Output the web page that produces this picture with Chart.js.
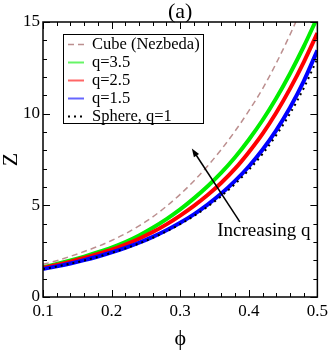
<!DOCTYPE html>
<html>
<head>
<meta charset="utf-8">
<script src="https://cdn.jsdelivr.net/npm/chart.js@4.4.0/dist/chart.umd.min.js"></script>
<style>
  html, body { margin: 0; padding: 0; background: #fff; }
</style>
</head>
<body>
<canvas id="chart" width="332" height="350"></canvas>
<script>
// packing fraction
const phi = [0.10, 0.12, 0.14, 0.16, 0.18, 0.20, 0.22, 0.24, 0.26, 0.28, 0.30,
             0.32, 0.34, 0.36, 0.38, 0.40, 0.42, 0.44, 0.46, 0.48, 0.50];
// compressibility Z
const cube   = [1.78, 1.98, 2.22, 2.48, 2.76, 3.08, 3.45, 3.88, 4.37, 4.95, 5.60,
                6.33, 7.15, 8.05, 9.05, 10.15, 11.35, 12.75, 14.30, 16.00, 17.90];
const q35    = [1.63, 1.80, 1.99, 2.20, 2.44, 2.70, 3.00, 3.36, 3.78, 4.25, 4.78,
                5.38, 6.04, 6.78, 7.62, 8.58, 9.64, 10.84, 12.18, 13.65, 15.25];
const q25    = [1.59, 1.75, 1.93, 2.13, 2.35, 2.58, 2.86, 3.18, 3.54, 3.96, 4.44,
                4.97, 5.56, 6.23, 7.00, 7.90, 8.90, 10.05, 11.35, 12.80, 14.40];
const q15    = [1.53, 1.67, 1.83, 2.01, 2.21, 2.43, 2.68, 2.96, 3.28, 3.64, 4.05,
                4.51, 5.04, 5.64, 6.33, 7.12, 8.03, 9.09, 10.32, 11.76, 13.45];
const sphere = [1.52, 1.66, 1.82, 1.99, 2.19, 2.41, 2.65, 2.92, 3.23, 3.58, 3.97,
                4.42, 4.93, 5.51, 6.17, 6.93, 7.80, 8.82, 10.00, 11.38, 13.00];

const seriesLabels = ['Cube (Nezbeda)', 'q=3.5', 'q=2.5', 'q=1.5', 'Sphere, q=1'];
const xTicks = [0.1, 0.2, 0.3, 0.4, 0.5];
const yTicks = [0, 5, 10, 15];
const panelTitle = '(a)';
const noteText = 'Increasing q';
const noteAt = [0.354, 3.6];
const arrowFrom = [0.387, 4.1];
const arrowTo = [0.317, 8.1];

const SERIF = "'Liberation Serif', 'DejaVu Serif', serif";

function pts(ys) {
  return phi.map((p, i) => ({ x: p, y: ys[i] }));
}

const styles = {
  'Cube (Nezbeda)': { color: '#bc8f8f', width: 1.5, dash: [6, 4] },
  'q=3.5': { color: '#00ee00', width: 4, dash: [] },
  'q=2.5': { color: '#ff0000', width: 4, dash: [] },
  'q=1.5': { color: '#0000ff', width: 4, dash: [] },
  'Sphere, q=1': { color: '#000000', width: 2, dash: [2, 4] },
};

function makeSet(label, ys) {
  const s = styles[label];
  return {
    label: label,
    data: pts(ys),
    borderColor: s.color,
    borderWidth: s.width,
    borderDash: s.dash,
    pointRadius: 0,
    fill: false,
    cubicInterpolationMode: 'monotone',
  };
}

// frame with inward ticks on all four sides
const framePlugin = {
  id: 'frame',
  afterDatasetsDraw(chart) {
    const { ctx, chartArea: a, scales: { x, y } } = chart;
    ctx.save();
    ctx.strokeStyle = '#000';
    ctx.lineWidth = 1;
    ctx.beginPath();
    for (let i = 0; i <= 20; i++) {
      const px = Math.round(x.getPixelForValue(0.1 + i * 0.02)) + 0.5;
      const len = i % 5 === 0 ? 7 : 4;
      ctx.moveTo(px, a.bottom); ctx.lineTo(px, a.bottom - len);
      ctx.moveTo(px, a.top); ctx.lineTo(px, a.top + len);
    }
    for (let i = 0; i <= 15; i++) {
      const py = Math.round(y.getPixelForValue(i)) + 0.5;
      const len = i % 5 === 0 ? 7 : 4;
      ctx.moveTo(a.left, py); ctx.lineTo(a.left + len, py);
      ctx.moveTo(a.right, py); ctx.lineTo(a.right - len, py);
    }
    ctx.stroke();
    ctx.lineWidth = 1.5;
    ctx.strokeRect(a.left, a.top, a.right - a.left, a.bottom - a.top);

    // panel title
    ctx.fillStyle = '#000';
    ctx.font = '22px ' + SERIF;
    ctx.textAlign = 'center';
    ctx.textBaseline = 'middle';
    ctx.fillText(panelTitle, (a.left + a.right) / 2, 12);

    // arrow + note
    const x0 = x.getPixelForValue(arrowFrom[0]), y0 = y.getPixelForValue(arrowFrom[1]);
    const x1 = x.getPixelForValue(arrowTo[0]), y1 = y.getPixelForValue(arrowTo[1]);
    const ang = Math.atan2(y1 - y0, x1 - x0);
    ctx.lineWidth = 1.5;
    ctx.beginPath();
    ctx.moveTo(x0, y0);
    ctx.lineTo(x1 - 6 * Math.cos(ang), y1 - 6 * Math.sin(ang));
    ctx.stroke();
    ctx.beginPath();
    ctx.moveTo(x1, y1);
    ctx.lineTo(x1 - 9 * Math.cos(ang - 0.35), y1 - 9 * Math.sin(ang - 0.35));
    ctx.lineTo(x1 - 9 * Math.cos(ang + 0.35), y1 - 9 * Math.sin(ang + 0.35));
    ctx.closePath();
    ctx.fill();
    ctx.font = '19px ' + SERIF;
    ctx.textAlign = 'left';
    ctx.fillText(noteText, x.getPixelForValue(noteAt[0]), y.getPixelForValue(noteAt[1]));

    // legend box
    const bx = 63, by = 34, bw = 140, bh = 89;
    ctx.fillStyle = '#fff';
    ctx.fillRect(bx, by, bw, bh);
    ctx.lineWidth = 1;
    ctx.strokeStyle = '#000';
    ctx.strokeRect(bx + 0.5, by + 0.5, bw, bh);
    ctx.font = '16.5px ' + SERIF;
    ctx.textBaseline = 'middle';
    seriesLabels.forEach((lab, i) => {
      const s = styles[lab];
      const ly = by + 10.5 + i * 18;
      ctx.save();
      ctx.strokeStyle = s.color;
      ctx.lineWidth = lab === 'Cube (Nezbeda)' ? 1.5 : 2;
      if (lab !== 'Sphere, q=1' && lab !== 'Cube (Nezbeda)') ctx.globalAlpha = 0.6;
      ctx.setLineDash(s.dash);
      ctx.beginPath();
      ctx.moveTo(bx + 5, ly);
      ctx.lineTo(bx + 21, ly);
      ctx.stroke();
      ctx.restore();
      ctx.fillStyle = '#000';
      ctx.fillText(lab, bx + 29, ly);
    });
    ctx.restore();
  }
};

new Chart(document.getElementById('chart'), {
  type: 'line',
  data: {
    datasets: [
      makeSet('Cube (Nezbeda)', cube),
      makeSet('Sphere, q=1', sphere),
      makeSet('q=1.5', q15),
      makeSet('q=2.5', q25),
      makeSet('q=3.5', q35),
    ]
  },
  options: {
    responsive: false,
    animation: false,
    devicePixelRatio: 1,
    layout: { padding: { top: 22, right: 13, left: 0, bottom: 0 } },
    plugins: {
      legend: { display: false },
      tooltip: { enabled: false },
      title: { display: false },
    },
    scales: {
      x: {
        type: 'linear',
        min: 0.1,
        max: 0.5,
        afterBuildTicks: s => { s.ticks = xTicks.map(v => ({ value: v })); },
        afterFit: s => { s.height = 53; },
        grid: { display: false, drawTicks: false },
        border: { display: false },
        ticks: {
          autoSkip: false,
          maxRotation: 0,
          padding: 4,
          color: '#000',
          font: { family: SERIF, size: 17 },
          callback: v => v.toFixed(1),
        },
        title: {
          display: true,
          text: 'ϕ',
          color: '#000',
          padding: 0,
          font: { family: SERIF, size: 22, lineHeight: 1 },
        },
      },
      y: {
        type: 'linear',
        min: 0,
        max: 15,
        afterBuildTicks: s => { s.ticks = yTicks.map(v => ({ value: v })); },
        afterFit: s => { s.width = 43; },
        grid: { display: false, drawTicks: false },
        border: { display: false },
        ticks: {
          autoSkip: false,
          padding: 3,
          color: '#000',
          font: { family: SERIF, size: 17 },
        },
        title: {
          display: true,
          text: 'Z',
          color: '#000',
          padding: 0,
          font: { family: SERIF, size: 22, lineHeight: 1 },
        },
      },
    },
  },
  plugins: [framePlugin],
});
</script>
</body>
</html>
